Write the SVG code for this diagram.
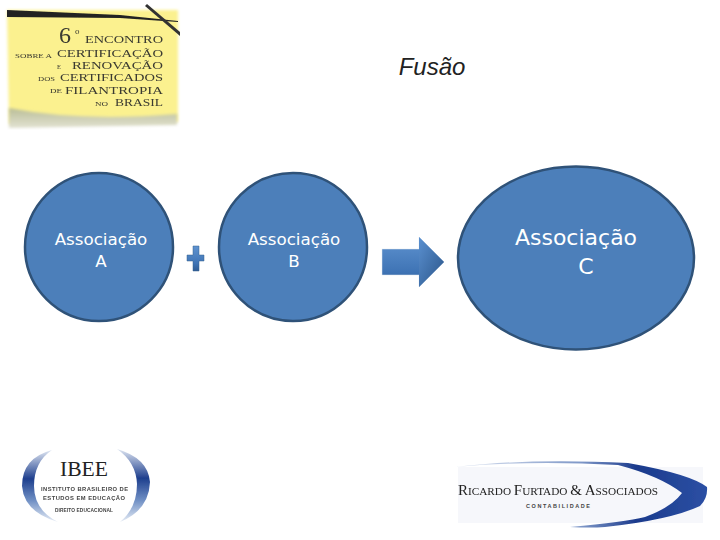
<svg xmlns="http://www.w3.org/2000/svg" width="720" height="540" viewBox="0 0 720 540">
<style>
.c{fill:#4c7fba;stroke:#2f5278;stroke-width:2.5}
.t{font-family:"DejaVu Sans","Liberation Sans",sans-serif;fill:#fff;text-anchor:middle}
.s{font-family:"Liberation Serif",serif;fill:#3a3a30}
.k{font-family:"Liberation Sans",sans-serif;fill:#444}
</style>
<defs>
<linearGradient id="bar" x1="0" y1="0" x2="0" y2="1"><stop offset="0" stop-color="#5f93d0"/><stop offset=".7" stop-color="#3f74b5"/><stop offset="1" stop-color="#2f5c94"/></linearGradient>
<linearGradient id="hd" x1="0" y1="0" x2="1" y2="1"><stop offset="0" stop-color="#5a90d0"/><stop offset="1" stop-color="#2a5488"/></linearGradient>
<linearGradient id="sw" x1="0" y1="0" x2="1" y2="0"><stop offset="0" stop-color="#dfe6f2"/><stop offset=".5" stop-color="#7f98c8"/><stop offset=".72" stop-color="#1a3a8c"/><stop offset="1" stop-color="#2c50a4"/></linearGradient>
<linearGradient id="cl" x1="0" y1="0" x2="0" y2="1"><stop offset="0" stop-color="#dfe6f2"/><stop offset=".4" stop-color="#1e3f8e"/><stop offset=".7" stop-color="#6f8fc4"/><stop offset="1" stop-color="#e6ecf5"/></linearGradient>
<linearGradient id="sh" x1="0" y1="0" x2="0" y2="1"><stop offset="0" stop-color="#b9bd96"/><stop offset="1" stop-color="#e2e2d2"/></linearGradient>
<filter id="b1" x="-10%" y="-10%" width="120%" height="120%"><feGaussianBlur stdDeviation="1.500"/></filter>
<filter id="b0" x="-5%" y="-5%" width="110%" height="110%"><feGaussianBlur stdDeviation=".35"/></filter>
</defs>
<rect width="720" height="540" fill="#fff"/>
<g id="logo-encontro">
<path d="M7 10H178V122L9 124Z" fill="#fbf18f" filter="url(#b1)"/>
<path d="M9 108Q80 122 177 114V125L9 128Z" fill="url(#sh)" filter="url(#b1)"/>
<path d="M7 10L120 15L178 21V22L120 18L7 17Z" fill="#222" filter="url(#b0)"/>
<path d="M147 4L180 32V36L145 6Z" fill="#333" filter="url(#b0)"/>
<g class="s" filter="url(#b0)">
<text x="59" y="43" font-size="24">6</text>
<text x="75" y="34" font-size="9">o</text>
<text x="85" y="43" font-size="11" textLength="78" lengthAdjust="spacingAndGlyphs">ENCONTRO</text>
<text x="15" y="58" font-size="6.500" textLength="37" lengthAdjust="spacingAndGlyphs">SOBRE A</text>
<text x="57" y="57" font-size="11" textLength="106" lengthAdjust="spacingAndGlyphs">CERTIFICAÇÃO</text>
<text x="57" y="69" font-size="6.500">E</text>
<text x="72" y="69" font-size="11" textLength="91" lengthAdjust="spacingAndGlyphs">RENOVAÇÃO</text>
<text x="38" y="81" font-size="6.500" textLength="17" lengthAdjust="spacingAndGlyphs">DOS</text>
<text x="60" y="81" font-size="11" textLength="103" lengthAdjust="spacingAndGlyphs">CERTIFICADOS</text>
<text x="50" y="93" font-size="6.500" textLength="12" lengthAdjust="spacingAndGlyphs">DE</text>
<text x="65" y="94" font-size="11" textLength="98" lengthAdjust="spacingAndGlyphs">FILANTROPIA</text>
<text x="95" y="106" font-size="6.500" textLength="13" lengthAdjust="spacingAndGlyphs">NO</text>
<text x="115" y="106" font-size="11" textLength="48" lengthAdjust="spacingAndGlyphs">BRASIL</text>
</g>
</g>
<text x="432" y="75" font-family="'Liberation Sans',sans-serif" font-style="italic" font-size="24" fill="#222" text-anchor="middle">Fusão</text>
<g id="node-a"><circle class="c" cx="99" cy="247" r="74"/>
<text class="t" font-size="16.700" x="101" y="245">Associação</text><text class="t" font-size="16.700" x="101" y="267">A</text></g>
<g id="node-b"><circle class="c" cx="293" cy="247" r="74"/>
<text class="t" font-size="16.700" x="294" y="245">Associação</text><text class="t" font-size="16.700" x="294" y="267">B</text></g>
<g id="node-c"><ellipse class="c" cx="576" cy="258" rx="118" ry="91.500"/>
<text class="t" font-size="22" x="576" y="245">Associação</text><text class="t" font-size="22" x="586" y="274">C</text></g>
<g id="connectors">
<path id="plus" d="M193 246H199V255H204V261H199V271H193V261H187V255H193Z" fill="url(#bar)" stroke="#35608f" stroke-width=".5" stroke-linejoin="round"/>
<path id="arrow" d="M382 249H419V237L444 262L419 287V275H382Z" fill="url(#bar)" stroke="#dfe6ee" stroke-width=".5"/>
<path d="M419 237L444 262L419 287Z" fill="url(#hd)"/>
</g>
<g id="logo-ibee">
<path d="M52 450Q22 458 22 486Q24 512 58 522Q34 510 34 486Q34 462 52 450Z" fill="url(#cl)" filter="url(#b0)"/>
<path d="M117 449Q148 458 150 482Q149 510 120 522Q137 508 137 484Q136 462 117 449Z" fill="url(#cl)" filter="url(#b0)"/>
<text x="60" y="476" font-size="20" textLength="48" lengthAdjust="spacingAndGlyphs" style="font-family:'Liberation Serif',serif;fill:#222">IBEE</text>
<g class="k" font-weight="bold" filter="url(#b0)">
<text x="41" y="491" font-size="5.800" textLength="87">INSTITUTO BRASILEIRO DE</text>
<text x="43" y="500" font-size="5.800" textLength="82">ESTUDOS EM EDUCAÇÃO</text>
<text x="55" y="512" font-size="4.800" textLength="58">DIREITO EDUCACIONAL</text>
</g>
</g>
<g id="logo-furtado">
<rect x="458" y="467" width="245" height="56" fill="#f6f7fb"/>
<path d="M455 467Q530 458 628 463Q690 474 707 487Q708 498 700 506Q670 520 605 527Q590 528 570 527Q625 522 645 517Q672 507 682 493Q660 476 618 465Q530 460 455 467Z" fill="url(#sw)" filter="url(#b0)"/>
<text class="s" x="458" y="495" font-size="10.500" textLength="200" lengthAdjust="spacingAndGlyphs" filter="url(#b0)" style="fill:#222"><tspan font-size="14">R</tspan>ICARDO <tspan font-size="14">F</tspan>URTADO <tspan font-size="14">&amp;</tspan> <tspan font-size="14">A</tspan>SSOCIADOS</text>
<text class="k" x="526" y="508" font-size="5.500" font-weight="bold" textLength="64">CONTABILIDADE</text>
</g>
</svg>
